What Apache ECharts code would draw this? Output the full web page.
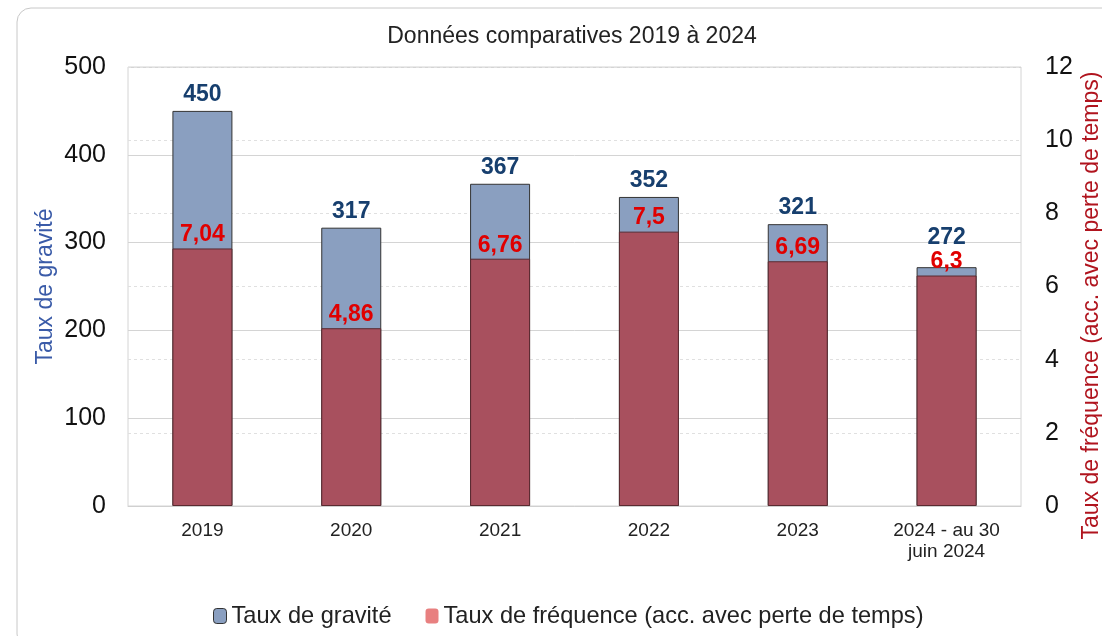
<!DOCTYPE html>
<html>
<head>
<meta charset="utf-8">
<script src="https://cdn.jsdelivr.net/npm/echarts@6/dist/echarts.min.js"></script>
<style>
  html, body { margin: 0; padding: 0; background: #fff; }
  #chart { width: 1102px; height: 636px; }
</style>
</head>
<body>
<div id="chart"></div>
<script>
var categories = ['2019', '2020', '2021', '2022', '2023', '2024 - au 30\njuin 2024'];
var gravite = [450, 317, 367, 352, 321, 272];
var frequence = [7.04, 4.86, 6.76, 7.5, 6.69, 6.3];

var FONT = '"Liberation Sans", Arial, sans-serif';

var chart = echarts.init(document.getElementById('chart'));

// keep the gravité label above the fréquence label when they collide
function liftLabel(p) {
  var redTop = chart.convertToPixel({ yAxisIndex: 1 }, frequence[p.dataIndex]);
  var redLabelTop = redTop - 2 - 24;
  var bottom = p.labelRect.y + p.labelRect.height;
  return { dy: Math.min(0, redLabelTop - bottom) };
}

var option = {
  backgroundColor: '#fff',
  textStyle: { fontFamily: FONT },
  title: {
    text: 'Données comparatives 2019 à 2024',
    left: 567,
    textAlign: 'center',
    top: 20,
    textStyle: { fontFamily: FONT, fontSize: 23, fontWeight: 'normal', color: '#222' }
  },
  graphic: [{
    type: 'rect',
    shape: { x: 17, y: 8, width: 1100, height: 640, r: 14 },
    style: { fill: 'none', stroke: '#c8c8c8', lineWidth: 1 },
    silent: true
  }],
  grid: {
    left: 128, right: 81, top: 67, bottom: 130,
    outerBoundsMode: 'none',
    containLabel: false,
    show: true, borderColor: '#d4d4d4', borderWidth: 1
  },
  legend: {
    top: 599,
    left: 208,
    itemWidth: 13, itemHeight: 15, itemGap: 34,
    textStyle: { fontFamily: FONT, fontSize: 23.6, color: '#222' },
    data: [
      { name: 'Taux de gravité', itemStyle: { color: '#8a9fc0', borderColor: '#333', borderWidth: 1 } },
      { name: 'Taux de fréquence (acc. avec perte de temps)', itemStyle: { color: '#e88080', borderWidth: 0 } }
    ]
  },
  xAxis: {
    type: 'category',
    data: categories,
    axisTick: { show: false },
    axisLine: { lineStyle: { color: '#d0d0d0' } },
    axisLabel: { fontFamily: FONT, fontSize: 19, color: '#222', margin: 14, lineHeight: 21 }
  },
  yAxis: [{
    type: 'value',
    min: 0, max: 500, interval: 100,
    name: 'Taux de gravité',
    nameLocation: 'middle',
    nameGap: 71,
    nameMoveOverlap: false,
    nameTextStyle: { fontFamily: FONT, fontSize: 23, color: '#3a5ba8' },
    axisLine: { show: false },
    axisTick: { show: false },
    axisLabel: { fontFamily: FONT, fontSize: 25, color: '#111', margin: 22 },
    splitLine: { lineStyle: { color: '#d4d4d4', type: 'solid' } }
  }, {
    type: 'value',
    min: 0, max: 12, interval: 2,
    name: 'Taux de fréquence (acc. avec perte de temps)',
    nameLocation: 'middle',
    nameGap: 59,
    nameMoveOverlap: false,
    nameRotate: 90,
    nameTextStyle: { fontFamily: FONT, fontSize: 23, color: '#b0141e', padding: [0, 38, 0, 0] },
    axisLine: { show: false },
    axisTick: { show: false },
    axisLabel: { fontFamily: FONT, fontSize: 25, color: '#111', margin: 24 },
    splitLine: { lineStyle: { color: '#e0e0e0', type: [3, 3] } }
  }],
  series: [{
    name: 'Taux de gravité',
    type: 'bar',
    yAxisIndex: 0,
    data: gravite,
    barWidth: 60,
    itemStyle: { color: '#8a9fc0', borderColor: '#333', borderWidth: 1 },
    label: {
      show: true, position: 'top', distance: 5,
      fontFamily: FONT, fontSize: 23, fontWeight: 'bold', color: '#173f6e'
    },
    labelLayout: liftLabel
  }, {
    name: 'Taux de fréquence (acc. avec perte de temps)',
    type: 'bar',
    yAxisIndex: 1,
    data: frequence,
    barWidth: 60,
    barGap: '-100%',
    itemStyle: { color: '#a8505e', borderColor: '#5a2a30', borderWidth: 1 },
    label: {
      show: true, position: 'top', distance: 2,
      fontFamily: FONT, fontSize: 23, fontWeight: 'bold', color: '#e00000',
      formatter: function (p) { return String(p.value).replace('.', ','); }
    }
  }]
};

chart.setOption(option);
</script>
</body>
</html>
